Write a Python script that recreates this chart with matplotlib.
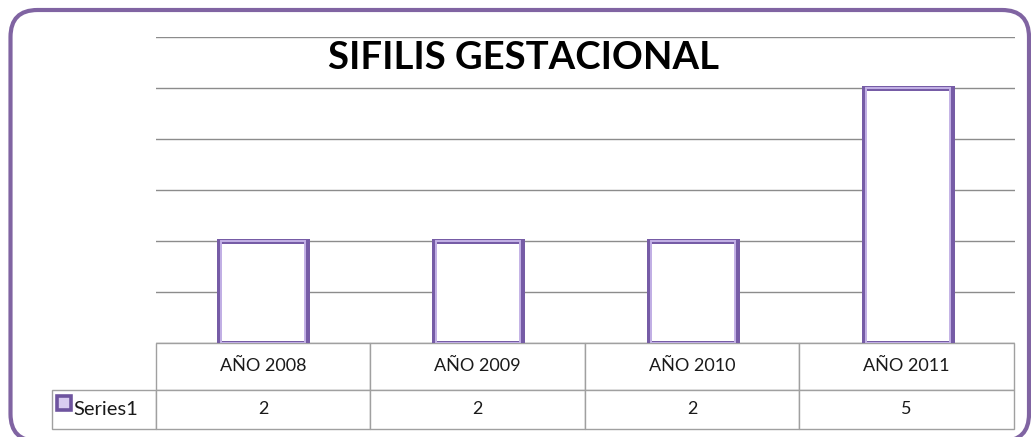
import matplotlib
matplotlib.use("Agg")
import matplotlib.pyplot as plt
from matplotlib.patches import FancyBboxPatch

plt.rcParams['font.family'] = ['Lato', 'DejaVu Sans']

# chart data
categories = ['AÑO 2008', 'AÑO 2009', 'AÑO 2010', 'AÑO 2011']
values = [2, 2, 2, 5]
series_name = 'Series1'
title = 'SIFILIS GESTACIONAL'

purple = '#8064A2'
grid_gray = '#8C8C8C'
table_gray = '#A0A0A0'

fig = plt.figure(figsize=(10.31, 4.37), dpi=100)
ax = fig.add_axes([156 / 1031, 94 / 437, 859 / 1031, 306 / 437])

x = range(len(categories))
# white bars with a dark purple rim and a lighter inner rim
ax.bar(x, values, width=0.41, color='white', edgecolor='#765CA6',
       linewidth=3.6, zorder=3)
ax.bar(x, values, width=0.392, color='none', edgecolor='#C4B2E6',
       linewidth=1.4, zorder=4)

ax.set_xlim(-0.5, len(categories) - 0.5)
ax.set_ylim(0, 6)
ax.set_yticks(range(0, 7))
ax.yaxis.grid(True, color=grid_gray, linewidth=1)
ax.set_axisbelow(True)
ax.tick_params(left=False, bottom=False, labelleft=False, labelbottom=False)
for s in ax.spines.values():
    s.set_visible(False)

# data table under the plot, first column holds the legend entry
cell_text = [[series_name] + [str(v) for v in values]]
col_labels = [''] + categories
col_w = [104] + [215] * len(categories)
tbl = ax.table(cellText=cell_text, colLabels=col_labels,
               colWidths=[w / sum(col_w) for w in col_w],
               cellLoc='center', bbox=[-0.1211, -0.281, 1.1199, 0.281])
tbl.auto_set_font_size(False)
for (r, c), cell in tbl.get_celld().items():
    cell.set_edgecolor(table_gray)
    cell.set_linewidth(1)
    cell.set_height(46 if r == 0 else 39)
    cell.get_text().set_fontsize(13)
    cell.get_text().set_color('#1a1a1a')
    if r == 0 and c == 0:
        cell.visible_edges = ''
    if r == 1 and c == 0:
        cell.get_text().set_horizontalalignment('left')
        cell.get_text().set_fontsize(14.5)
        cell.PAD = 0.21

# legend key in the series cell
ax.plot([-0.1071], [-0.196], marker='s', markersize=9.5,
        markerfacecolor='#D9CCF0', markeredgecolor='#6E549F',
        markeredgewidth=2.6, transform=ax.transAxes, clip_on=False)

fig.text(524 / 1031, 1 - 58 / 437, title, ha='center', va='center',
         fontsize=27.5, fontweight='bold', color='black')

# rounded chart frame
frame = FancyBboxPatch((0.105, -0.04), 10.185, 4.31,
                       boxstyle='round,pad=0,rounding_size=0.27',
                       transform=fig.dpi_scale_trans, facecolor='none',
                       edgecolor=purple, linewidth=3, zorder=10)
fig.patches.append(frame)

fig.savefig('out.png', dpi=100)
